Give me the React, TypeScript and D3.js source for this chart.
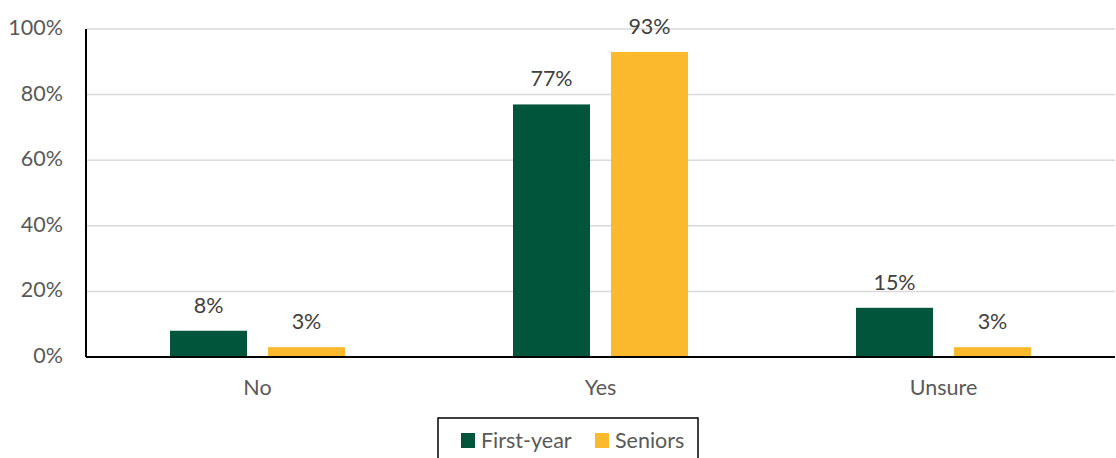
import React from "react";
import * as d3 from "d3";

const categories = ["No", "Yes", "Unsure"];
const seriesNames = ["First-year", "Seniors"];
const firstYear = [8, 77, 15];
const seniors = [3, 93, 3];
const yTicks = [0, 20, 40, 60, 80, 100];
const colors = ["#00553B", "#FBBA2E"];

export default function App() {
  const W = 1116, H = 458;
  const left = 86, right = 1115, top = 29, bottom = 357;
  const x = d3.scaleBand().domain(categories).range([left, right]);
  const outer = 84;
  const inner = d3.scaleBand().domain(seriesNames).range([outer, x.bandwidth() - outer]).paddingInner(0.214).paddingOuter(0);
  const y = d3.scaleLinear().domain([0, 100]).range([bottom, top]);
  const series = [firstYear, seniors];
  const font = "Lato, 'Open Sans', sans-serif";
  const fs = 21.5;
  return (
    <svg width={W} height={H} style={{ position: "absolute", left: 0, top: 0 }} fontFamily={font}>
      <rect width={W} height={H} fill="#fff" />
      {yTicks.map((t) => (
        <g key={t}>
          {t > 0 && <line x1={left} x2={right} y1={y(t)} y2={y(t)} stroke="#d9d9d9" strokeWidth={1.5} />}
          <text x={63} y={y(t) + 6} textAnchor="end" fontSize={fs} fill="#595959">{t}%</text>
        </g>
      ))}
      {categories.map((c, i) =>
        series.map((s, j) => {
          const bx = (x(c) as number) + (inner(seriesNames[j]) as number);
          const bw = inner.bandwidth();
          return (
            <g key={c + j}>
              <rect x={bx} y={y(s[i])} width={bw} height={bottom - y(s[i])} fill={colors[j]} />
              <text x={bx + bw / 2} y={y(s[i]) - 18} textAnchor="middle" fontSize={fs} fill="#404040">{s[i]}%</text>
            </g>
          );
        })
      )}
      <line x1={left} x2={left} y1={top} y2={bottom} stroke="#000" strokeWidth={2} />
      <line x1={left} x2={right} y1={bottom} y2={bottom} stroke="#000" strokeWidth={2} />
      {categories.map((c) => (
        <text key={c} x={(x(c) as number) + x.bandwidth() / 2} y={395} textAnchor="middle" fontSize={fs} fill="#595959">{c}</text>
      ))}
      <rect x={438} y={418} width={260} height={50} fill="none" stroke="#000" strokeWidth={1.5} />
      {seriesNames.map((n, j) => {
        const lx = j === 0 ? 461 : 595;
        return (
          <g key={n}>
            <rect x={lx} y={433} width={14} height={15} fill={colors[j]} />
            <text x={lx + 20} y={448} fontSize={fs} fill="#595959">{n}</text>
          </g>
        );
      })}
    </svg>
  );
}
